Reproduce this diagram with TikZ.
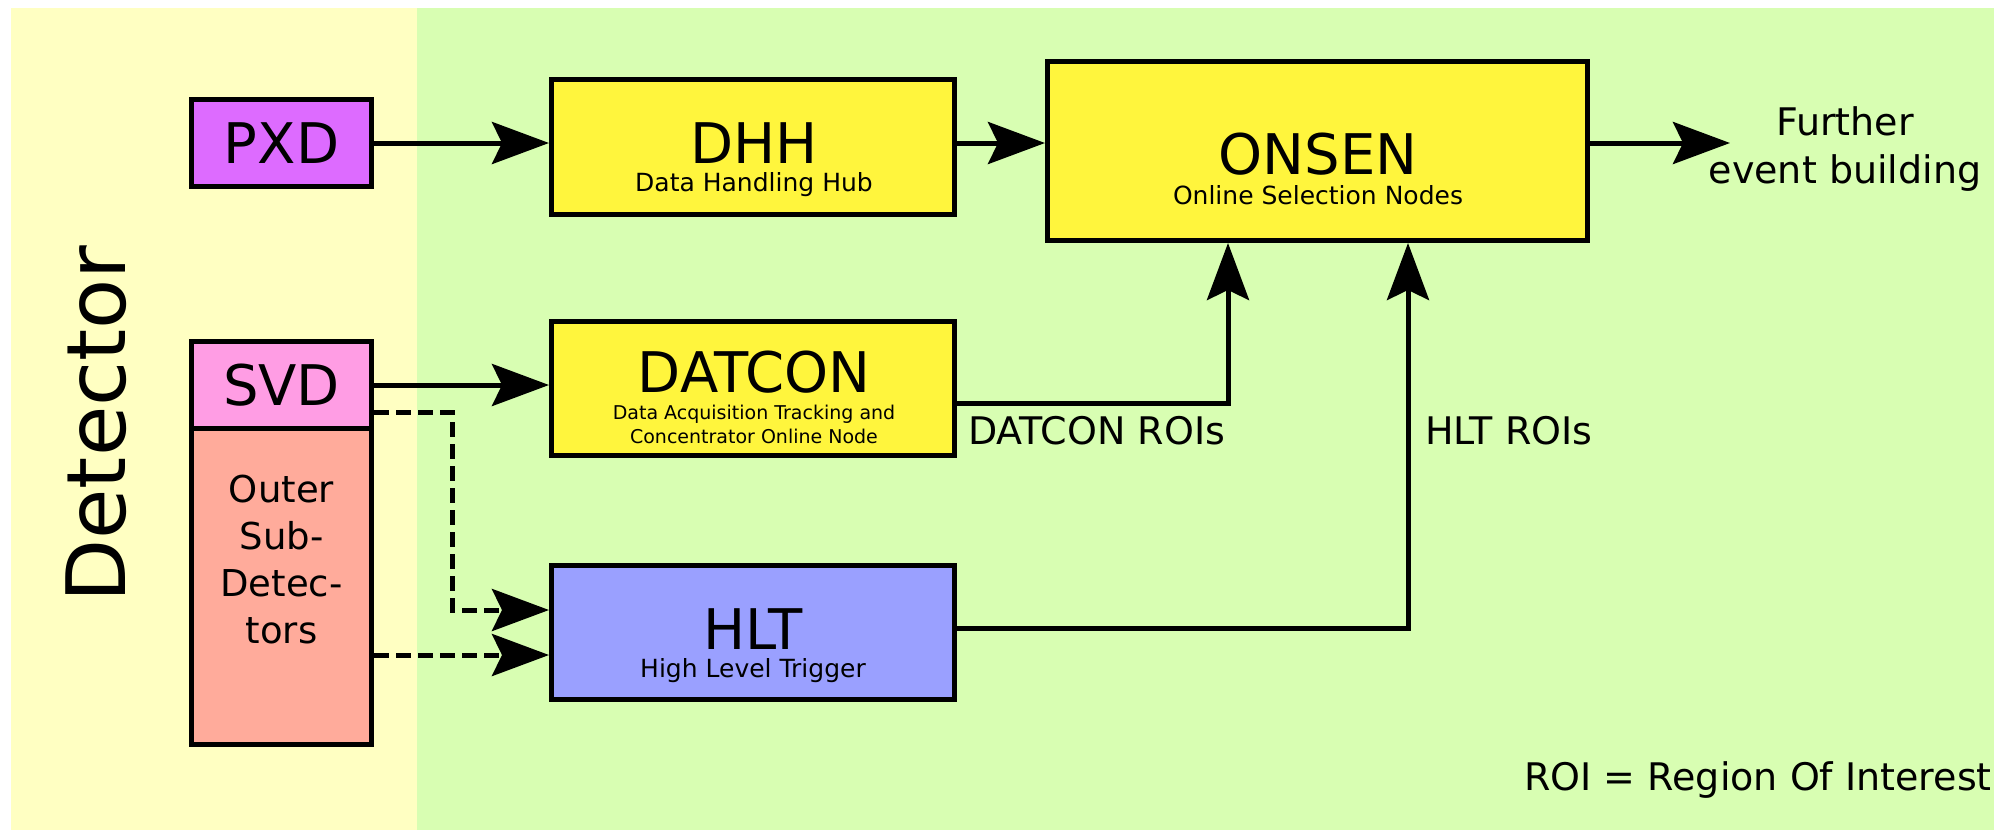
\documentclass[tikz,border=0pt]{standalone}
\usepackage{fontspec}
\setmainfont{DejaVu Sans}
\usetikzlibrary{arrows.meta}

\definecolor{bgdet}{HTML}{FFFFC2}
\definecolor{bgdaq}{HTML}{D8FEB2}
\definecolor{cyel}{HTML}{FFF53D}
\definecolor{cpxd}{HTML}{DD6BFF}
\definecolor{csvd}{HTML}{FF9DE4}
\definecolor{couter}{HTML}{FFAB9B}
\definecolor{chlt}{HTML}{9AA0FF}

\newcommand\setfs[2]{\fontsize{#1}{#2}\selectfont}

\begin{document}
\begin{tikzpicture}[x=1pt,y=-1pt,
  box/.style={draw=black, line width=5pt, rectangle, inner sep=0pt},
  conn/.style={line width=5pt, -{Stealth[length=57pt,width=42pt,inset=10pt]}},
  dashconn/.style={conn, dash pattern=on 15pt off 7pt},
  lbl/.style={anchor=base, inner sep=0pt, text=black}]

\useasboundingbox (0,0) rectangle (1998,831);

% background regions
\fill[bgdet] (11,8) rectangle (417,830);
\fill[bgdaq] (417,8) rectangle (1994,830);

\node[lbl, rotate=90, font=\setfs{82}{90}] (detT) at (125,424) {Detector};

% detector boxes
\node[box, fill=cpxd, minimum width=180pt, minimum height=87pt] (pxd) at (281.5,143) {};
\node[box, fill=csvd, minimum width=180pt, minimum height=87pt] (svd) at (281.5,385) {};
\node[box, fill=couter, minimum width=180pt, minimum height=316pt] (outer) at (281.5,586.5) {};

\node[lbl, font=\setfs{56}{60}] (pxdT) at (281.5,163) {PXD};
\node[lbl, font=\setfs{56}{60}] (svdT) at (281.5,405) {SVD};
\node[lbl, font=\setfs{37}{47}] (outerT) at (281.5,502)
  {\begin{tabular}[t]{@{}c@{}}Outer\\Sub-\\Detec-\\tors\end{tabular}};

% processing boxes
\node[box, fill=cyel, minimum width=403pt, minimum height=135pt] (dhh) at (753,147) {};
\node[box, fill=cyel, minimum width=403pt, minimum height=134pt] (datcon) at (753,388.5) {};
\node[box, fill=chlt, minimum width=403pt, minimum height=134pt] (hlt) at (753,632) {};
\node[box, fill=cyel, minimum width=540pt, minimum height=179pt] (onsen) at (1317.5,151) {};

\node[lbl, font=\setfs{56}{60}] (dhhT) at (754,163) {DHH};
\node[lbl, font=\setfs{25}{30}] (dhhS) at (754,191) {Data Handling Hub};
\node[lbl, font=\setfs{56}{60}] (datconT) at (754,392) {DATCON};
\node[lbl, font=\setfs{19}{24}] (datconS) at (754,419)
  {\begin{tabular}[t]{@{}c@{}}Data Acquisition Tracking and\\Concentrator Online Node\end{tabular}};
\node[lbl, font=\setfs{56}{60}] (hltT) at (753,649) {HLT};
\node[lbl, font=\setfs{25}{30}] (hltS) at (753,677) {High Level Trigger};
\node[lbl, font=\setfs{56}{60}] (onsenT) at (1318,174) {ONSEN};
\node[lbl, font=\setfs{25}{30}] (onsenS) at (1318,204) {Online Selection Nodes};

% free text
\node[lbl, font=\setfs{38}{48}] (furtherT) at (1845,135)
  {\begin{tabular}[t]{@{}c@{}}Further\\event building\end{tabular}};
\node[lbl, anchor=base west, font=\setfs{38}{44}] (droiT) at (968,444) {DATCON ROIs};
\node[lbl, anchor=base west, font=\setfs{38}{44}] (hroiT) at (1425,444) {HLT ROIs};
\node[lbl, anchor=base east, font=\setfs{38}{44}] (roiT) at (1992,790) {ROI = Region Of Interest};

% routing points
\coordinate (fe) at (1730,143);
\coordinate (dy) at (0,403);
\coordinate (dx) at (1228,0);
\coordinate (hy) at (0,628);
\coordinate (hx) at (1408,0);
\coordinate (sy) at (0,412);
\coordinate (sx) at (452,610);
\coordinate (oy) at (0,655);

% connectors
\draw[conn] (pxd.east) -- (pxd.east -| dhh.west);
\draw[conn] (pxd.east -| dhh.east) -- (pxd.east -| onsen.west);
\draw[conn] (pxd.east -| onsen.east) -- (fe);
\draw[conn] (svd.east) -- (svd.east -| datcon.west);
\draw[conn] (datcon.east |- dy) -| (dx |- onsen.south);
\draw[conn] (hlt.east |- hy) -| (hx |- onsen.south);
\draw[dashconn] (svd.east |- sy) -| (sx) -- (sx -| hlt.west);
\draw[dashconn] (outer.east |- oy) -- (hlt.west |- oy);

\end{tikzpicture}
\end{document}
